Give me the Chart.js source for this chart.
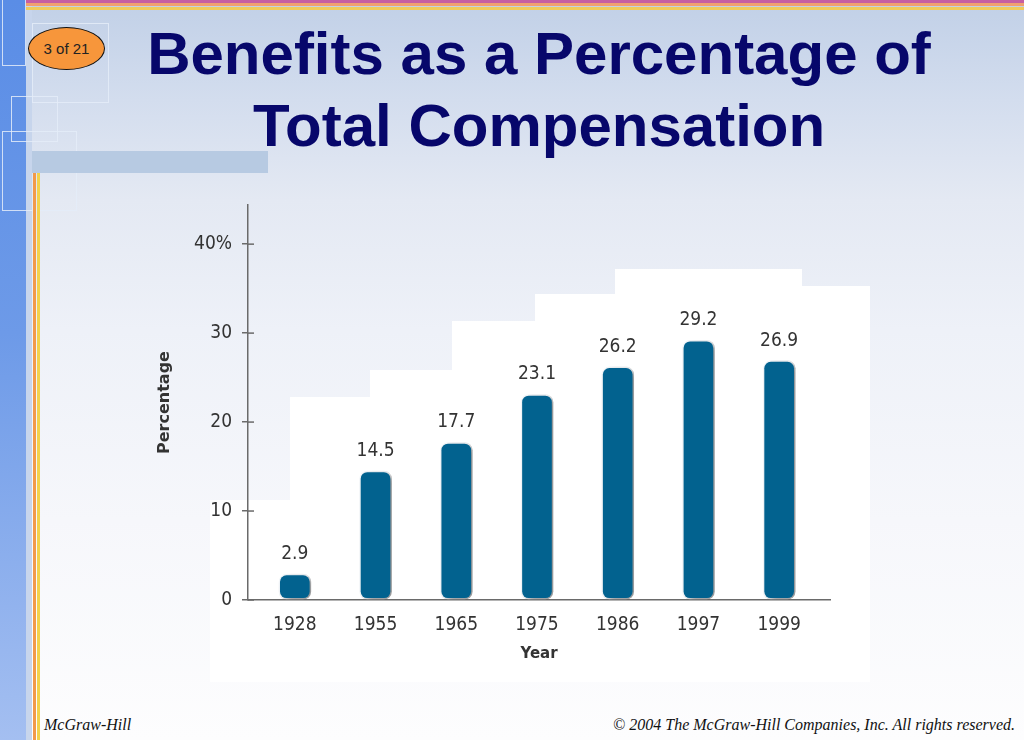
<!DOCTYPE html>
<html>
<head>
<meta charset="utf-8">
<script src="https://cdn.jsdelivr.net/npm/chart.js@4.4.1/dist/chart.umd.min.js"></script>
<style>
  html, body { margin: 0; padding: 0; }
  body {
    width: 1024px; height: 740px; position: relative; overflow: hidden;
    background: linear-gradient(to bottom, #c1d0e7 0px, #d3ddee 100px, #e4e9f3 200px, #eef1f8 330px, #f6f7fb 520px, #fdfdfe 740px);
    font-family: "Liberation Sans", Arial, sans-serif;
  }
  .abs { position: absolute; }
  #band { left: 0; top: 0; width: 26px; height: 740px; background: linear-gradient(to bottom, #5a8de6, #6d9ae8 45%, #a4bff1); }
  #strip { left: 26px; top: 0; width: 6px; height: 740px; background: #c7d5ec; }
  #stripe1 { left: 26px; right: 0; top: 0; height: 3px; background: #c65ea2; }
  #stripe2 { left: 26px; right: 0; top: 3px; height: 3px; background: #f0a070; }
  #stripe3 { left: 26px; right: 0; top: 7px; height: 3px; background: #efcb5c; }
  .box { border: 1.5px solid rgba(228, 236, 248, 0.85); }
  #hband { left: 32px; top: 151px; width: 236px; height: 22px; background: #b7cae2; }
  #vor { left: 33px; top: 173px; width: 3px; height: 567px; background: #f29a4a; }
  #vye { left: 37px; top: 173px; width: 3px; height: 567px; background: #f3d24c; }
  #panel {
    left: 0; top: 0; width: 1024px; height: 740px; background: #ffffff;
    clip-path: polygon(210px 500px, 290px 500px, 290px 397px, 370px 397px, 370px 370px, 452px 370px,
      452px 321px, 535px 321px, 535px 294px, 615px 294px, 615px 269px, 802px 269px, 802px 286px,
      870px 286px, 870px 682px, 210px 682px);
  }
  #oval {
    left: 28px; top: 27px; width: 75px; height: 41px; border: 1.5px solid #111; border-radius: 50%;
    background: #f7963b; font-size: 15px; color: #222; text-align: center; line-height: 41px;
  }
  #title {
    left: 139px; top: 18px; width: 800px; text-align: center; color: #07076b;
    font: bold 60px/72px "Liberation Sans", Arial, sans-serif;
  }
  .foot { top: 715px; font: italic 16px/20px "Liberation Serif", "Times New Roman", serif; color: #111; }
  #chartBox { left: 0; top: 0; width: 1024px; height: 740px; }
</style>
</head>
<body>
<div class="abs" id="band"></div>
<div class="abs" id="strip"></div>
<div class="abs" id="stripe1"></div>
<div class="abs" id="stripe2"></div>
<div class="abs" id="stripe3"></div>
<div class="abs box" style="left:2px;top:-2px;width:22px;height:66px;"></div>
<div class="abs box" style="left:32px;top:23px;width:75px;height:78px;"></div>
<div class="abs box" style="left:11px;top:96px;width:45px;height:44px;"></div>
<div class="abs box" style="left:2px;top:131px;width:73px;height:78px;"></div>
<div class="abs" id="hband"></div>
<div class="abs" id="vor"></div>
<div class="abs" id="vye"></div>
<div class="abs" id="panel"></div>
<div class="abs" id="oval">3 of 21</div>
<div class="abs" id="title">Benefits as a Percentage of<br>Total Compensation</div>
<div class="abs foot" style="left:44px;">McGraw-Hill</div>
<div class="abs foot" style="right:9px;">© 2004 The McGraw-Hill Companies, Inc. All rights reserved.</div>
<div class="abs" id="chartBox"><canvas id="myChart"></canvas></div>

<script>
const years = ['1928', '1955', '1965', '1975', '1986', '1997', '1999'];
const benefitPct = [2.9, 14.5, 17.7, 23.1, 26.2, 29.2, 26.9];
const yTicks = [0, 10, 20, 30, 40];
const yTickLabels = ['0', '10', '20', '30', '40%'];

const numFont = "'Liberation Sans Narrow', 'DejaVu Sans Condensed', 'Liberation Sans', sans-serif";
const axisGray = '#6a6a6a';

// bar shadow, to the lower right
const barShadow = {
    id: 'barShadow',
    beforeDatasetDraw(chart) {
        const c = chart.ctx;
        c.save();
        c.shadowColor = 'rgba(0, 0, 0, 0.42)';
        c.shadowBlur = 6;
        c.shadowOffsetX = 5;
        c.shadowOffsetY = 3;
    },
    afterDatasetDraw(chart) {
        chart.ctx.restore();
    }
};

// value labels over the bars + the inner half of the y ticks
const barLabels = {
    id: 'barLabels',
    afterDatasetsDraw(chart) {
        const c = chart.ctx;
        const meta = chart.getDatasetMeta(0);
        c.save();
        c.font = '19px ' + numFont;
        c.fillStyle = '#333333';
        c.textAlign = 'center';
        c.textBaseline = 'middle';
        meta.data.forEach(function (bar, i) {
            c.fillText(benefitPct[i].toFixed(1), bar.x, bar.y - 20);
        });

        const y = chart.scales.y;
        c.strokeStyle = axisGray;
        c.lineWidth = 1.5;
        y.ticks.forEach(function (t) {
            const py = y.getPixelForValue(t.value);
            c.beginPath();
            c.moveTo(chart.chartArea.left, py);
            c.lineTo(chart.chartArea.left + 6, py);
            c.stroke();
        });
        c.restore();
    }
};

const ctx = document.getElementById('myChart');

const myChart = new Chart(ctx, {
    type: 'bar',
    data: {
        datasets: [{
            label: 'Benefits as a percentage of total compensation',
            data: years.map(function (yr, i) { return { x: i, y: benefitPct[i] }; }),
            backgroundColor: '#02628f',
            borderColor: '#f4f7fa',
            borderWidth: 1.5,
            borderRadius: 8,
            borderSkipped: false,
            barThickness: 32
        }]
    },
    options: {
        responsive: true,
        maintainAspectRatio: false,
        animation: false,
        layout: { padding: { left: 155, top: 205, right: 194, bottom: 70 } },
        plugins: {
            legend: { display: false },
            tooltip: { enabled: false }
        },
        scales: {
            x: {
                type: 'linear',
                offset: false,
                min: -0.58,
                max: 6.63,
                afterBuildTicks: function (scale) {
                    scale.ticks = years.map(function (yr, i) { return { value: i }; });
                },
                afterFit: function (scale) { scale.height = 70; },
                grid: { display: false, drawTicks: false },
                border: { display: true, color: axisGray, width: 1.5 },
                ticks: {
                    autoSkip: false,
                    maxRotation: 0,
                    padding: 14,
                    color: '#333333',
                    font: { family: numFont, size: 19 },
                    callback: function (v) { return years[v]; }
                },
                title: {
                    display: true,
                    text: 'Year',
                    color: '#333333',
                    font: { family: "'DejaVu Sans', sans-serif", size: 15, weight: 'bold' },
                    padding: { top: 0, bottom: 7 }
                }
            },
            y: {
                min: 0,
                max: 44.4,
                afterBuildTicks: function (scale) {
                    scale.ticks = yTicks.map(function (v) { return { value: v }; });
                },
                afterFit: function (scale) { scale.width = 93; },
                grid: { drawOnChartArea: false, drawTicks: true, tickLength: 6, color: axisGray, lineWidth: 1.5 },
                border: { display: true, color: axisGray, width: 1.5 },
                ticks: {
                    padding: 10,
                    color: '#333333',
                    font: { family: numFont, size: 19 },
                    callback: function (v, i) { return yTickLabels[i]; }
                },
                title: {
                    display: true,
                    text: 'Percentage',
                    color: '#333333',
                    font: { family: "'DejaVu Sans', sans-serif", size: 16, weight: 'bold' },
                    padding: 0
                }
            }
        }
    },
    plugins: [barShadow, barLabels]
});
</script>
</body>
</html>
